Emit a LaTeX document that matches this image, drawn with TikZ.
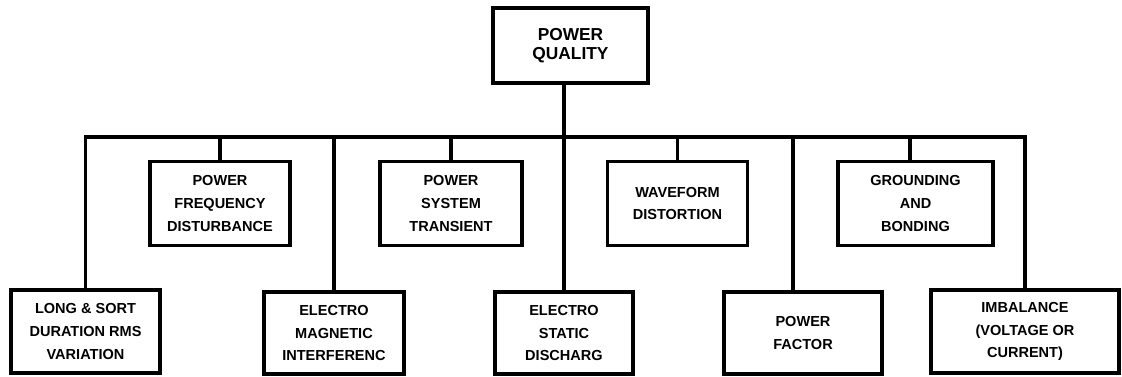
\documentclass[tikz,border=0pt]{standalone}
\usepackage{fontspec}
\setmainfont{Liberation Sans}
\usetikzlibrary{positioning}

\begin{document}
\begin{tikzpicture}[x=0.75pt,y=-0.75pt,
  catbox/.style={draw,line width=2.6pt,align=center,inner sep=0pt,
    font=\bfseries\fontsize{10.9}{17}\selectfont},
  rootbox/.style={catbox,font=\bfseries\fontsize{13}{14.5}\selectfont},
  link/.style={line width=2.6pt}]
\useasboundingbox (0,0) rectangle (1122,377);
% Root of the tree
\node[rootbox,minimum width=116.25pt,minimum height=56.25pt] (pq) at (570.5,45.5) {POWER\\QUALITY};
% Upper row of categories
\node[catbox,minimum width=105pt,minimum height=63pt] (pfd) at (220,203.5) {POWER\\FREQUENCY\\DISTURBANCE};
\node[catbox,minimum width=106.5pt,minimum height=63pt] (pst) at (451,203.5) {POWER\\SYSTEM\\TRANSIENT};
\node[catbox,minimum width=105pt,minimum height=63pt] (wd) at (677.5,203.5) {WAVEFORM\\DISTORTION};
\node[catbox,minimum width=116.25pt,minimum height=63pt] (gb) at (915.5,203.5) {GROUNDING\\AND\\BONDING};
% Lower row of categories
\node[catbox,minimum width=111.75pt,minimum height=62.25pt] (lsd) at (85.5,331.5) {LONG \& SORT\\DURATION RMS\\VARIATION};
\node[catbox,minimum width=105pt,minimum height=61.5pt] (emi) at (334,333) {ELECTRO\\MAGNETIC\\INTERFERENC};
\node[catbox,minimum width=103.5pt,minimum height=61.5pt] (esd) at (564,333) {ELECTRO\\STATIC\\DISCHARG};
\node[catbox,minimum width=118.5pt,minimum height=61.5pt] (pf) at (803,333) {POWER\\FACTOR};
\node[catbox,minimum width=141pt,minimum height=62.25pt] (imb) at (1025,331.5) {IMBALANCE\\(VOLTAGE OR\\CURRENT)};
% Bus line
\coordinate (busR) at (1025,137);
\draw[link] (lsd.north) |- (busR) -- (imb.north);
\draw[link] (esd.north) -- (esd.north |- pq.south);
% Drops to the boxes
\foreach \n in {pfd,pst,wd}
  \draw[link] (\n.north) -- (\n.north |- busR);
\draw[link] ([xshift=-4pt]gb.north) -- ([xshift=-4pt]gb.north |- busR);
\draw[link] (emi.north) -- (emi.north |- busR);
\draw[link] ([xshift=-7.5pt]pf.north) -- ([xshift=-7.5pt]pf.north |- busR);
\end{tikzpicture}
\end{document}
